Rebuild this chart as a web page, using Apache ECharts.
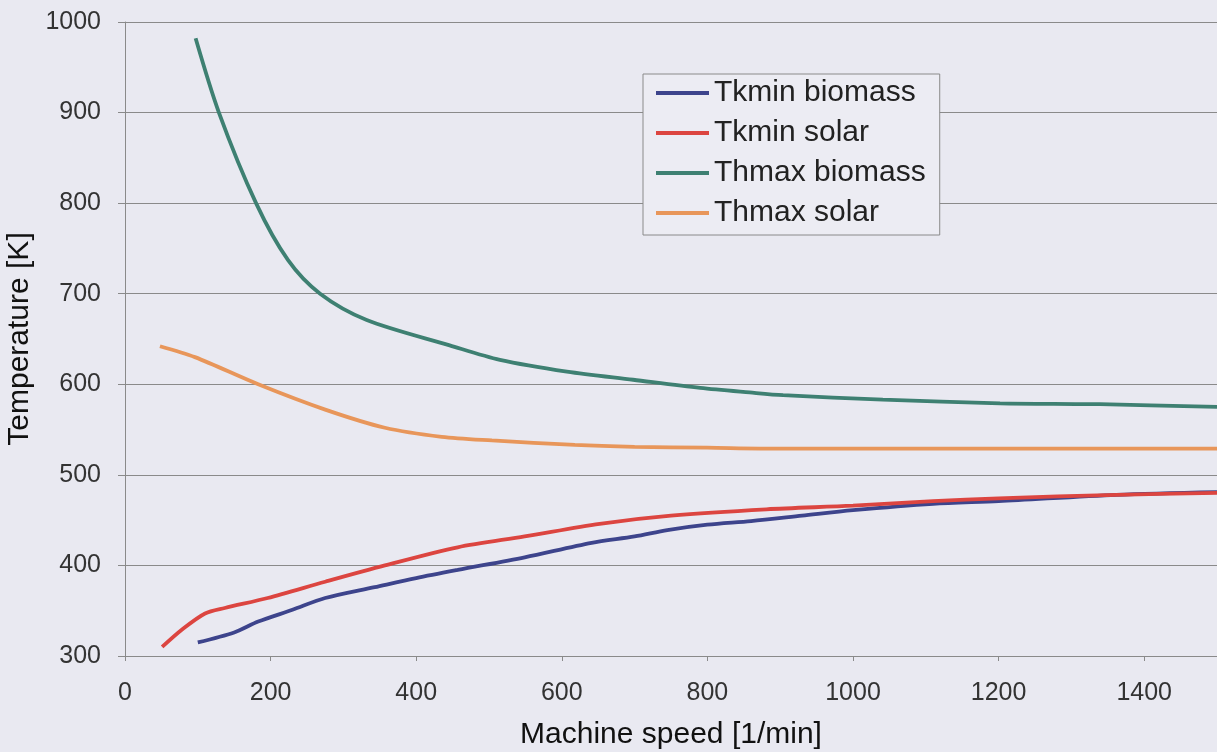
<!DOCTYPE html>
<html>
<head>
<meta charset="utf-8">
<script src="https://cdn.jsdelivr.net/npm/echarts@6/dist/echarts.min.js"></script>
<style>
html,body{margin:0;padding:0;background:#e9e9f1;}
#c{width:1217px;height:752px;}
</style>
</head>
<body>
<div id="c"></div>
<script>
const seriesNames = ['Tkmin biomass', 'Tkmin solar', 'Thmax biomass', 'Thmax solar'];
const tkminBiomass = [[100,315],[150,326],[183,338],[230,351],[275,364],[343,376],[400,386],[457,395],[549,409],[641,425],[700,432],[745,439],[800,445],[860,449],[930,455],[1000,461],[1110,468],[1200,471],[1362,478],[1500,481]];
const tkminSolar = [[51,310],[78,329],[110,347],[137,353],[196,364],[275,382],[357,400],[457,420],[549,432],[652,446],[750,455],[881,462],[1000,466],[1110,471],[1200,474],[1362,478],[1500,480]];
const thmaxBiomass = [[97,982],[129,900],[180,800],[224,737],[268,700],[332,671],[446,643],[515,627],[607,614],[698,605],[790,596],[858,591],[904,588],[1041,583],[1202,579],[1339,578],[1500,575]];
const thmaxSolar = [[48,642],[96,630],[183,600],[275,572],[357,552],[435,542],[504,538],[618,533],[700,531],[800,530],[900,529],[1100,529],[1300,529],[1500,529]];
const colors = ['#3d448c', '#dc4540', '#3e8072', '#e8965a'];

const chart = echarts.init(document.getElementById('c'));
const datasets = [tkminBiomass, tkminSolar, thmaxBiomass, thmaxSolar];
chart.setOption({
  backgroundColor: '#e9e9f1',
  animation: false,
  textStyle: { fontFamily: 'Liberation Sans, Arial, sans-serif' },
  grid: { left: 125, right: 0, top: 22, bottom: 96, containLabel: false, outerBoundsMode: 'none' },
  legend: {
    orient: 'vertical',
    left: 643, top: 74,
    padding: [4, 14, 7, 11],
    borderColor: '#8a8a8a', borderWidth: 1,
    backgroundColor: '#ececf3',
    itemWidth: 53, itemHeight: 14,
    itemGap: 10,
    itemTextGap: 9,
    itemStyle: { opacity: 0 },
    lineStyle: { width: 4 },
    textStyle: { fontSize: 30, color: '#222', lineHeight: 30 },
    data: seriesNames
  },
  xAxis: {
    type: 'value', min: 0, max: 1500, interval: 200,
    name: 'Machine speed [1/min]', nameLocation: 'middle', nameGap: 64,
    nameTextStyle: { fontSize: 30, color: '#111' },
    axisLine: { show: true, lineStyle: { color: '#8a8a8a', width: 1 } },
    axisTick: { show: true, inside: false, length: 5, lineStyle: { color: '#8a8a8a' } },
    axisLabel: { fontSize: 25, color: '#333', margin: 25, showMaxLabel: false, formatter: v => String(v) },
    splitLine: { show: false }
  },
  yAxis: {
    type: 'value', min: 300, max: 1000, interval: 100,
    name: 'Temperature [K]', nameLocation: 'middle', nameGap: 83, nameRotate: 90,
    nameTextStyle: { fontSize: 30, color: '#111' },
    axisLine: { show: true, lineStyle: { color: '#8a8a8a', width: 1 } },
    axisTick: { show: true, length: 7, lineStyle: { color: '#8a8a8a' } },
    axisLabel: { fontSize: 25, color: '#333', margin: 24, formatter: v => String(v) },
    splitLine: { show: true, lineStyle: { color: '#8a8a8a', width: 1.2 } }
  },
  series: datasets.map((d, i) => ({
    name: seriesNames[i],
    type: 'line',
    data: d,
    smooth: 0.3,
    symbol: 'none',
    color: colors[i],
    lineStyle: { color: colors[i], width: 3.8 }
  }))
});
</script>
</body>
</html>
